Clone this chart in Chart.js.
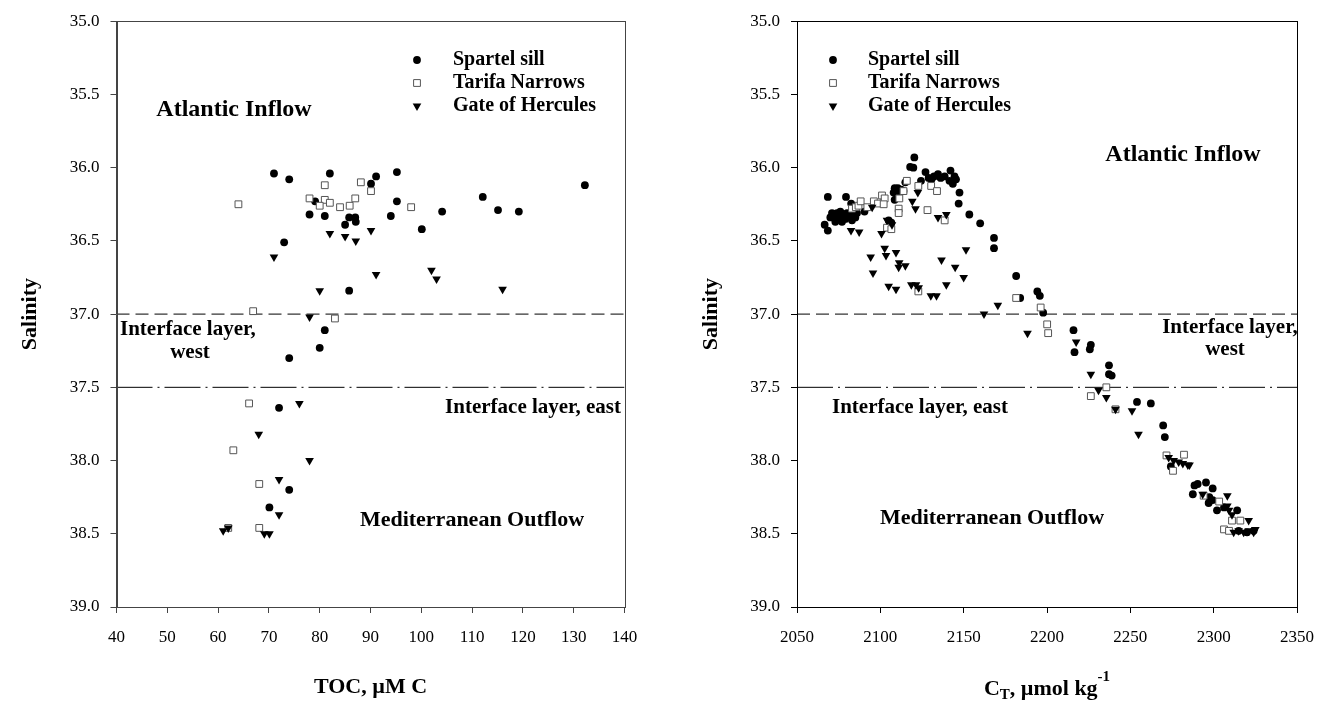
<!DOCTYPE html>
<html><head><meta charset="utf-8">
<script src="https://cdn.jsdelivr.net/npm/chart.js@4/dist/chart.umd.min.js"></script>
<style>
html,body{margin:0;padding:0;background:#fff;width:1328px;height:701px;overflow:hidden}
canvas{position:absolute;top:0}
#c1{left:0px} #c2{left:664px}
</style></head><body>
<canvas id="c1" width="664" height="701"></canvas>
<canvas id="c2" width="664" height="701"></canvas>
<script>
// ---------- Left panel: TOC vs salinity ----------
const tocSpartel    = [71.0,74.0,82.0,79.1,78.0,81.0,85.8,87.0,85.0,87.1,73.0,85.8,81.0,80.0,74.0,95.2,91.1,90.1,95.2,94.0,104.1,112.1,115.1,119.2,132.2,100.1,72.0,74.0,70.1];
const salTocSpartel = [36.04,36.08,36.04,36.23,36.32,36.33,36.34,36.34,36.39,36.37,36.51,36.84,37.11,37.23,37.30,36.03,36.06,36.11,36.23,36.33,36.30,36.20,36.29,36.30,36.12,36.42,37.64,38.20,38.32];
const tocTarifa     = [81.0,64.0,78.0,81.0,82.0,80.0,84.0,85.9,88.1,90.1,87.0,98.0,66.9,83.0,66.1,63.0,68.1,62.0,68.1];
const salTocTarifa  = [36.12,36.25,36.21,36.22,36.24,36.26,36.27,36.26,36.10,36.16,36.21,36.27,36.98,37.03,37.61,37.93,38.16,38.46,38.46];
const tocHercules   = [82.0,85.0,71.0,80.0,78.0,90.1,87.1,91.1,102.0,103.0,116.0,76.0,68.0,78.0,72.0,72.0,61.0,62.0,69.1,70.1];
const salTocHercules= [36.45,36.47,36.61,36.84,37.02,36.43,36.50,36.73,36.70,36.76,36.83,37.61,37.82,38.00,38.13,38.37,38.48,38.46,38.50,38.50];

// ---------- Right panel: CT vs salinity ----------
const ctSpartel    = [2066.6,2068.5,2068.5,2079.4,2082.5,2070,2071,2072,2073,2074,2075,2076,2077,2078,2079,2080,2081,2083,2084,2085,2086,2073,2077,2090.5,2101.5,2105,2106.6,2108,2108.6,2110,2110.5,2112.5,2113.9,2108.6,2115,2117.9,2119.8,2120.4,2124.4,2127.1,2129,2130.7,2132.2,2134.6,2136.2,2138.6,2141.5,2142.1,2143.5,2144.5,2145.4,2147.5,2147,2153.4,2159.9,2168.2,2168.2,2181.5,2183.9,2194.2,2195.7,2197.7,2215.9,2216.5,2226.3,2225.7,2237.2,2237.2,2238.8,2254,2262.3,2269.7,2270.7,2274.3,2288.5,2290.4,2295.4,2287.5,2299.4,2297.4,2299.4,2297,2306.2,2302,2314.1,2315,2320,2324];
const salCtSpartel = [36.39,36.43,36.20,36.20,36.245,36.34,36.31,36.33,36.35,36.31,36.33,36.30,36.34,36.32,36.35,36.31,36.33,36.36,36.32,36.34,36.31,36.37,36.37,36.30,36.24,36.36,36.375,36.17,36.14,36.19,36.14,36.15,36.16,36.22,36.10,35.995,36.00,35.93,36.09,36.03,36.07,36.08,36.06,36.045,36.07,36.06,36.09,36.02,36.11,36.06,36.08,36.17,36.245,36.32,36.38,36.48,36.55,36.74,36.89,36.845,36.875,36.99,37.11,37.26,37.21,37.24,37.35,37.41,37.42,37.60,37.61,37.76,37.84,38.04,38.17,38.16,38.15,38.23,38.19,38.25,38.27,38.29,38.32,38.34,38.34,38.48,38.49,38.48];
const ctTarifa     = [2083,2085.3,2086.9,2088.2,2092.2,2096.1,2098.6,2101,2102.6,2102,2104,2106.6,2111,2111,2111.4,2113.9,2115.9,2122.8,2128.3,2130.5,2134,2138.6,2122.8,2181.5,2196.2,2200.1,2200.7,2226.3,2235.6,2241.1,2271.7,2282.2,2275.6,2294,2303.3,2311,2316,2306.2,2309.2];
const salCtTarifa  = [36.28,36.27,36.26,36.23,36.27,36.23,36.245,36.19,36.21,36.25,36.41,36.42,36.28,36.31,36.21,36.16,36.09,36.125,36.29,36.125,36.16,36.36,36.845,36.89,36.955,37.07,37.13,37.56,37.50,37.65,37.965,37.96,38.07,38.24,38.28,38.41,38.41,38.47,38.48];
const ctHercules   = [2082.4,2087.3,2095.1,2100.7,2104,2107,2102.6,2103.4,2109.4,2094.2,2095.6,2111.3,2111,2115,2105,2109.4,2118.6,2121.4,2123,2130.3,2133.7,2122.5,2119.2,2121.1,2134.6,2139.6,2136.7,2139.6,2144.9,2150,2151.4,2162.2,2170.5,2188.3,2217.5,2226.3,2230.9,2235.6,2241.1,2251,2254.9,2273,2276,2279,2281.5,2284.5,2285.5,2293.4,2308.2,2308.2,2309.2,2311,2321,2312,2315,2318,2321,2324,2325];
const salCtHercules= [36.43,36.44,36.27,36.45,36.36,36.39,36.55,36.60,36.58,36.61,36.72,36.65,36.68,36.67,36.81,36.83,36.80,36.80,36.82,36.875,36.875,36.17,36.23,36.28,36.34,36.32,36.63,36.80,36.68,36.75,36.56,37.00,36.94,37.13,37.19,37.41,37.52,37.57,37.65,37.66,37.82,37.98,38.00,38.01,38.02,38.03,38.03,38.23,38.24,38.31,38.34,38.37,38.41,38.49,38.48,38.49,38.48,38.49,38.47];

const seriesNames = ['Spartel sill','Tarifa Narrows','Gate of Hercules'];
const salinityTicks = [35.0,35.5,36.0,36.5,37.0,37.5,38.0,38.5,39.0];
const tocTicks = [40,50,60,70,80,90,100,110,120,130,140];
const ctTicks = [2050,2100,2150,2200,2250,2300,2350];
const interfaceWest = 37.0;
const interfaceEast = 37.5;

const SERIF = "'Liberation Serif','Times New Roman',serif";
Chart.defaults.font.family = SERIF;
Chart.defaults.color = '#000';

function pts(xs, ys){ return xs.map((x,i)=>({x:x, y:ys[i]})); }

const styles = [
  {pointStyle:'circle', pointRadius:3.9, backgroundColor:'#000', borderColor:'#000', borderWidth:0, pointRotation:0},
  {pointStyle:'rect', pointRadius:4.8, backgroundColor:'#fff', borderColor:'#555', borderWidth:1, pointRotation:0},
  {pointStyle:'triangle', pointRadius:5, backgroundColor:'#000', borderColor:'#000', borderWidth:0, pointRotation:180}
];

function drawMarker(ctx, st, x, y){
  ctx.save();
  ctx.fillStyle = st.backgroundColor; ctx.strokeStyle = st.borderColor; ctx.lineWidth = st.borderWidth || 1;
  ctx.beginPath();
  const r = st.pointRadius;
  if (st.pointStyle === 'circle') { ctx.arc(x, y, r, 0, Math.PI*2); ctx.fill(); }
  else if (st.pointStyle === 'rect') { const s = r*Math.SQRT1_2; ctx.rect(x-s, y-s, 2*s, 2*s); ctx.fill(); ctx.stroke(); }
  else {
    const a = Math.PI;
    for (let k=0;k<3;k++){ const ang = a + k*2*Math.PI/3; const px = x + Math.sin(ang)*r, py = y - Math.cos(ang)*r; if(k===0) ctx.moveTo(px,py); else ctx.lineTo(px,py);} ctx.closePath(); ctx.fill();
  }
  ctx.restore();
}

const overlayPlugin = {
  id: 'overlay',
  afterDraw(chart, args, o) {
    const ctx = chart.ctx, a = chart.chartArea;
    ctx.save();
    ctx.strokeStyle = o.frameColor; ctx.lineWidth = 1;
    ctx.strokeRect(Math.round(a.left)+0.5, Math.round(a.top)+0.5, Math.round(a.right-a.left), Math.round(a.bottom-a.top));
    ctx.fillStyle = '#000';
    ctx.textBaseline = 'middle';
    (o.texts||[]).forEach(t=>{
      ctx.font = 'bold ' + t.size + 'px ' + SERIF;
      ctx.textAlign = t.align || 'center';
      ctx.fillText(t.text, t.x - o.offset, t.y);
    });
    ctx.save();
    ctx.translate(o.yTitleX - o.offset, (a.top+a.bottom)/2);
    ctx.rotate(-Math.PI/2);
    ctx.font = 'bold 22px ' + SERIF; ctx.textAlign='center';
    ctx.fillText('Salinity', 0, 0);
    ctx.restore();
    const cx = (a.left+a.right)/2;
    if (o.xTitle === 'ct') {
      const big = 'bold 22px ' + SERIF, small = 'bold 15px ' + SERIF;
      ctx.font = big; const wC = ctx.measureText('C').width; const wMain = ctx.measureText(', \u00b5mol kg').width;
      ctx.font = small; const wT = ctx.measureText('T').width; const wE = ctx.measureText('-1').width;
      let x = cx - (wC+wT+wMain+wE)/2; const y = o.xTitleY;
      ctx.textAlign='left';
      ctx.font = big; ctx.fillText('C', x, y); x += wC;
      ctx.font = small; ctx.fillText('T', x, y+6); x += wT;
      ctx.font = big; ctx.fillText(', \u00b5mol kg', x, y); x += wMain;
      ctx.font = small; ctx.fillText('-1', x, y-12);
    } else {
      ctx.font = 'bold 22px ' + SERIF; ctx.textAlign='center';
      ctx.fillText(o.xTitle, cx, o.xTitleY);
    }
    ctx.font = 'bold 20px ' + SERIF; ctx.textAlign='left';
    seriesNames.forEach((n,i)=>{
      const y = o.legend.y0 + i*o.legend.dy;
      drawMarker(ctx, styles[i], o.legend.sx - o.offset, y);
      ctx.fillStyle='#000';
      ctx.fillText(n, o.legend.tx - o.offset, y);
    });
    ctx.restore();
  }
};

function makeChart(id, cfg){
  const last = cfg.xTicks[cfg.xTicks.length-1];
  const datasets = [
    Object.assign({label:seriesNames[0], data:pts(cfg.s[0], cfg.s[1]), order:3}, styles[0]),
    Object.assign({label:seriesNames[1], data:pts(cfg.s[2], cfg.s[3]), order:2}, styles[1]),
    Object.assign({label:seriesNames[2], data:pts(cfg.s[4], cfg.s[5]), order:1}, styles[2]),
    {type:'line', label:'west', data:[{x:cfg.xTicks[0],y:interfaceWest},{x:last,y:interfaceWest}], borderColor:'#000', borderWidth:1, borderDash:[13,6], pointRadius:0, fill:false, order:5},
    {type:'line', label:'east', data:[{x:cfg.xTicks[0],y:interfaceEast},{x:last,y:interfaceEast}], borderColor:'#000', borderWidth:1, borderDash:[36,5,2,5], pointRadius:0, fill:false, order:5}
  ];
  return new Chart(document.getElementById(id), {
    type:'scatter',
    data:{datasets},
    plugins:[overlayPlugin],
    options:{
      responsive:false, animation:false, devicePixelRatio:1,
      layout:{padding:{left:0, right:cfg.padRight, top:20, bottom:0}},
      plugins:{legend:{display:false}, tooltip:{enabled:false}, overlay:cfg.overlay},
      scales:{
        x:{type:'linear', min:cfg.xTicks[0], max:last,
           afterBuildTicks: s=>{ s.ticks = cfg.xTicks.map(v=>({value:v})); },
           ticks:{font:{size:17}, color:'#000', padding:14, maxRotation:0, autoSkip:false, callback:v=>String(v)},
           grid:{drawOnChartArea:false, drawTicks:true, tickLength:6, color:cfg.axisColor},
           border:{display:true, color:cfg.axisColor, width:1},
           afterFit: s=>{ s.height = 94; }},
        y:{type:'linear', reverse:true, min:35, max:39,
           afterBuildTicks: s=>{ s.ticks = salinityTicks.map(v=>({value:v})); },
           ticks:{font:{size:17}, color:'#000', padding:11, callback:v=>Number(v).toFixed(1)},
           grid:{drawOnChartArea:false, drawTicks:true, tickLength:6, color:cfg.axisColor},
           border:{display:true, color:cfg.axisColor, width:1},
           afterFit: s=>{ s.width = cfg.yWidth; }}
      }
    }
  });
}

makeChart('c1', {
  s:[tocSpartel, salTocSpartel, tocTarifa, salTocTarifa, tocHercules, salTocHercules],
  xTicks: tocTicks, padRight: 39.5, yWidth: 116.5, axisColor:'#444',
  overlay:{offset:0, frameColor:'#444', yTitleX:30, xTitle:'TOC, \u00b5M C', xTitleY:687,
    legend:{sx:417, tx:453, y0:60, dy:23},
    texts:[
      {text:'Atlantic Inflow', x:234, y:110, size:24},
      {text:'Interface layer,', x:120, y:330, size:21, align:'left'},
      {text:'west', x:190, y:353, size:21},
      {text:'Interface layer, east', x:621, y:408, size:21, align:'right'},
      {text:'Mediterranean Outflow', x:472, y:520, size:22}
    ]}
});

makeChart('c2', {
  s:[ctSpartel, salCtSpartel, ctTarifa, salCtTarifa, ctHercules, salCtHercules],
  xTicks: ctTicks, padRight: 24, yWidth: 133, axisColor:'#000',
  overlay:{offset:664, frameColor:'#000', yTitleX:711, xTitle:'ct', xTitleY:689,
    legend:{sx:833, tx:868, y0:60, dy:23},
    texts:[
      {text:'Atlantic Inflow', x:1183, y:155, size:24},
      {text:'Interface layer,', x:1230, y:328, size:21},
      {text:'west', x:1225, y:350, size:21},
      {text:'Interface layer, east', x:832, y:408, size:21, align:'left'},
      {text:'Mediterranean Outflow', x:992, y:518, size:22}
    ]}
});
</script>
</body></html>
